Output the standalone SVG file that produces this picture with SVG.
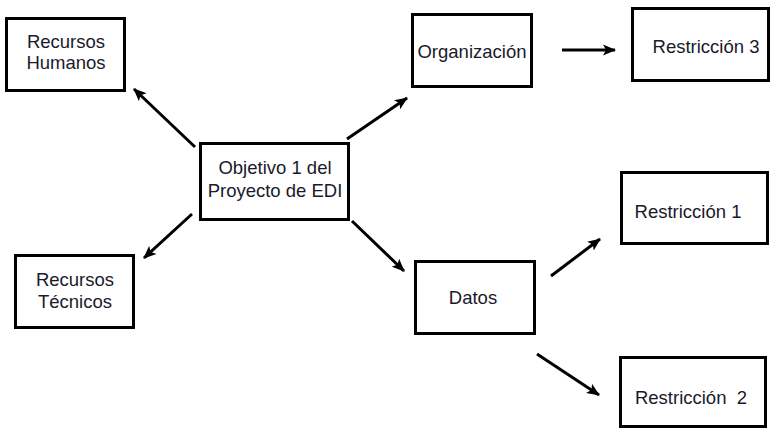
<svg xmlns="http://www.w3.org/2000/svg" width="775" height="431" viewBox="0 0 775 431">
<style>
.box{fill:#fff;stroke:#000;stroke-width:3}
.t{font-family:"Liberation Sans",Arial,sans-serif;font-size:18.5px;fill:#1a1a2a;text-anchor:middle}
.c{stroke:#000;stroke-width:3;fill:none;marker-end:url(#ah)}
</style>
<defs>
<marker id="ah" markerWidth="14" markerHeight="12" refX="12" refY="6" orient="auto" markerUnits="userSpaceOnUse">
<path d="M0,0.5 L13,6 L0,11.5 L3,6 Z" fill="#000"/>
</marker>
</defs>
<rect width="775" height="431" fill="#fff"/>
<g id="connectors">
<line class="c" x1="195" y1="147" x2="134" y2="89"/>
<line class="c" x1="347" y1="139" x2="407" y2="98"/>
<line class="c" x1="562" y1="50" x2="615" y2="50"/>
<line class="c" x1="192" y1="214" x2="144" y2="258"/>
<line class="c" x1="352" y1="221" x2="404" y2="271"/>
<line class="c" x1="551" y1="276" x2="600" y2="239"/>
<line class="c" x1="537" y1="354" x2="599" y2="395"/>
</g>
<g id="recursos-humanos">
<rect class="box" x="6.5" y="18.5" width="118" height="72"/>
<text class="t" x="66" y="48">Recursos</text>
<text class="t" x="66" y="69">Humanos</text>
</g>
<g id="objetivo">
<rect class="box" x="200.5" y="143.5" width="148" height="76"/>
<text class="t" x="275" y="174">Objetivo 1 del</text>
<text class="t" x="275" y="197">Proyecto de EDI</text>
</g>
<g id="organizacion">
<rect class="box" x="412.5" y="14.5" width="119" height="72"/>
<text class="t" x="472" y="58">Organización</text>
</g>
<g id="restriccion-3">
<rect class="box" x="632.5" y="8.5" width="136" height="72"/>
<text class="t" x="706" y="53">Restricción 3</text>
</g>
<g id="recursos-tecnicos">
<rect class="box" x="15.5" y="255.5" width="118" height="72"/>
<text class="t" x="75" y="286">Recursos</text>
<text class="t" x="75" y="308">Técnicos</text>
</g>
<g id="datos">
<rect class="box" x="415.5" y="261.5" width="119" height="72"/>
<text class="t" x="473" y="304">Datos</text>
</g>
<g id="restriccion-1">
<rect class="box" x="621.5" y="172.5" width="146" height="71"/>
<text class="t" x="688" y="218">Restricción 1</text>
</g>
<g id="restriccion-2">
<rect class="box" x="620.5" y="357.5" width="145" height="69"/>
<text class="t" x="691" y="404">Restricción&#160; 2</text>
</g>
</svg>
